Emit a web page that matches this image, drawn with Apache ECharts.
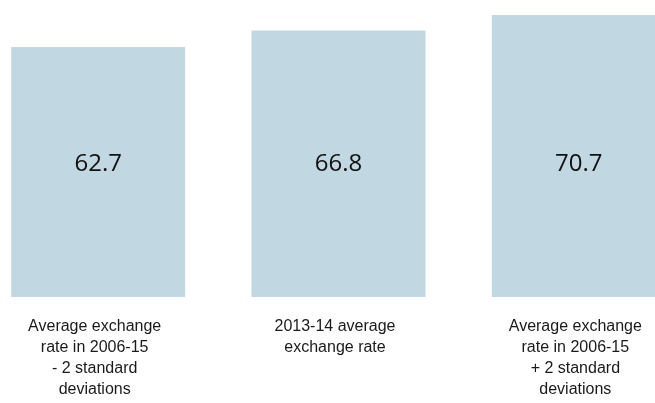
<!DOCTYPE html>
<html>
<head>
<meta charset="utf-8">
<script src="https://cdn.jsdelivr.net/npm/echarts@6/dist/echarts.min.js"></script>
<style>
html,body{margin:0;padding:0;background:#fff;overflow:hidden;width:655px;height:403px;}
#chart{position:absolute;left:-22px;top:0;width:721px;height:403px;}
</style>
</head>
<body>
<div id="chart"></div>
<script>
const categories = [
  "Average exchange\nrate in 2006-15\n- 2 standard\ndeviations",
  "2013-14 average\nexchange rate",
  "Average exchange\nrate in 2006-15\n+ 2 standard\ndeviations"
];
const values = [62.7, 66.8, 70.7];

const chart = echarts.init(document.getElementById('chart'), null, {renderer: 'canvas'});
chart.setOption({
  animation: false,
  backgroundColor: '#ffffff',
  grid: {left: 0, right: 0, top: 15, bottom: 106, containLabel: false},
  xAxis: {
    type: 'category',
    data: categories,
    axisLine: {show: false},
    axisTick: {show: false},
    axisLabel: {
      interval: 0,
      margin: 19,
      fontFamily: '"Liberation Sans", Arial, sans-serif',
      fontSize: 16,
      lineHeight: 21,
      color: '#1a1a1a',
      align: 'center',
      padding: [0, 7, 0, 0]
    }
  },
  yAxis: {
    type: 'value',
    min: 0,
    max: 'dataMax',
    show: false,
    splitLine: {show: false}
  },
  series: [{
    type: 'bar',
    data: values,
    barCategoryGap: '27.6%',
    itemStyle: {color: '#c1d7e1'},
    label: {
      show: true,
      position: 'insideBottom',
      distance: 121,
      formatter: p => p.value.toFixed(1),
      fontFamily: '"Open Sans", sans-serif',
      fontSize: 24,
      color: '#111111'
    }
  }]
});
</script>
</body>
</html>
